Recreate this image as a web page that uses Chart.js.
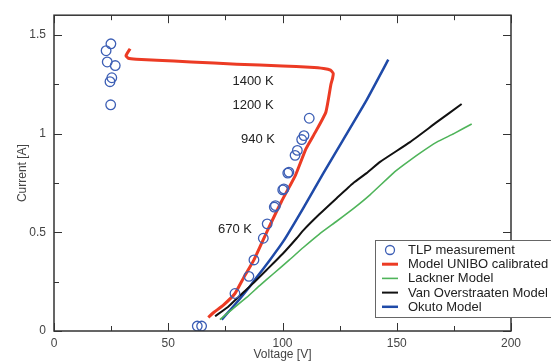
<!DOCTYPE html>
<html>
<head>
<meta charset="utf-8">
<script src="https://cdn.jsdelivr.net/npm/chart.js@4.4.1/dist/chart.umd.min.js"></script>
<style>
  html, body { margin: 0; padding: 0; background: #fff; }
</style>
</head>
<body>
<canvas id="chart" width="551" height="362"></canvas>
<script>
// ---------------- data ----------------
const xTicks = [0, 50, 100, 150, 200];
const xMinorTicks = [25, 75, 125, 175];
const yTicks = [0, 0.5, 1, 1.5];
const yMinorTicks = [0.25, 0.75, 1.25];

// TLP measurement (circles)
const tlpV = [22.8, 24.9, 23.3, 26.8, 25.3, 24.5, 24.8, 62.7, 64.6, 79.2, 85.3, 87.5, 91.6, 93.3,
              96.4, 96.9, 100.1, 100.6, 102.3, 102.8, 105.5, 106.5, 108.4, 109.4, 111.7];
const tlpI = [1.42, 1.455, 1.363, 1.345, 1.283, 1.263, 1.146, 0.025, 0.025, 0.19, 0.277, 0.36, 0.47, 0.543,
              0.628, 0.635, 0.715, 0.72, 0.80, 0.805, 0.89, 0.915, 0.97, 0.99, 1.078];

// Model UNIBO calibrated
const uniboV = [33.3, 31.5, 32.5, 36, 45, 60, 80, 100, 112, 118, 121, 122.2, 121.9, 121.2,
                119, 114.5, 110.3, 105.7, 99.5, 93.3, 87.5, 83, 79.2, 74, 70, 67.5];
const uniboI = [1.43, 1.395, 1.382, 1.377, 1.372, 1.363, 1.352, 1.343, 1.336, 1.33, 1.322, 1.305, 1.28, 1.25,
                1.11, 1.01, 0.924, 0.79, 0.655, 0.506, 0.36, 0.27, 0.19, 0.13, 0.095, 0.069];

// Lackner Model
const lacknerV = [72.6, 78, 84.3, 90, 96, 103, 109.1, 116, 123.7, 131, 138.3, 148.5, 152.9, 160, 167.5, 175, 182.8];
const lacknerI = [0.058, 0.11, 0.17, 0.23, 0.29, 0.36, 0.423, 0.49, 0.556, 0.62, 0.69, 0.8, 0.84, 0.9, 0.957, 1.0, 1.049];

// Van Overstraaten Model
const vanOverV = [70.5, 76, 81.4, 87, 93.1, 100, 106.2, 109.1, 116, 123.7, 131, 136.8, 142.7, 155.8, 167.5, 178.4];
const vanOverI = [0.075, 0.12, 0.18, 0.24, 0.31, 0.39, 0.47, 0.51, 0.59, 0.673, 0.75, 0.8, 0.857, 0.957, 1.058, 1.15];

// Okuto Model
const okutoV = [73.4, 77, 81.4, 85, 88.7, 94.5, 100.4, 109.1, 117.9, 126.6, 136.8, 146.3];
const okutoI = [0.058, 0.105, 0.164, 0.215, 0.272, 0.36, 0.455, 0.623, 0.8, 0.97, 1.17, 1.375];

// temperature notes
const noteText = ['1400 K', '1200 K', '940 K', '670 K'];
const noteV = [87.1, 87.1, 89.3, 79.2];
const noteI = [1.263, 1.143, 0.972, 0.516];

function pts(xs, ys) { return xs.map((x, i) => ({ x: x, y: ys[i] })); }

const FONT = '"Liberation Sans", Arial, sans-serif';

// ---------------- frame, inward ticks, notes and legend ----------------
const framePlugin = {
  id: 'frame',
  afterDatasetsDraw(chart) {
    const ctx = chart.ctx, a = chart.chartArea;
    const xs = chart.scales.x, ys = chart.scales.y;
    ctx.save();
    ctx.strokeStyle = '#333';
    ctx.lineWidth = 1.5;
    ctx.strokeRect(a.left, a.top, a.right - a.left, a.bottom - a.top);
    ctx.lineWidth = 1;
    ctx.beginPath();
    function xt(list, len) {
      list.forEach(v => {
        const px = Math.round(xs.getPixelForValue(v)) + 0.5;
        ctx.moveTo(px, a.bottom); ctx.lineTo(px, a.bottom - len);
        ctx.moveTo(px, a.top); ctx.lineTo(px, a.top + len);
      });
    }
    function yt(list, len) {
      list.forEach(v => {
        const py = Math.round(ys.getPixelForValue(v)) + 0.5;
        ctx.moveTo(a.left, py); ctx.lineTo(a.left + len, py);
        ctx.moveTo(a.right, py); ctx.lineTo(a.right - len, py);
      });
    }
    xt(xTicks, 8); xt(xMinorTicks, 5);
    yt(yTicks, 8); yt(yMinorTicks, 5);
    ctx.stroke();
    ctx.restore();
  },
  afterDraw(chart) {
    const ctx = chart.ctx;
    const xs = chart.scales.x, ys = chart.scales.y;
    ctx.save();
    // notes
    ctx.fillStyle = '#222';
    ctx.font = '13px ' + FONT;
    ctx.textAlign = 'center';
    ctx.textBaseline = 'middle';
    noteText.forEach((t, i) => {
      ctx.fillText(t, xs.getPixelForValue(noteV[i]), ys.getPixelForValue(noteI[i]));
    });
    // legend
    const bx = 375, by = 240, bw = 180, bh = 77;
    ctx.fillStyle = '#fff';
    ctx.fillRect(bx, by, bw, bh);
    ctx.strokeStyle = '#666';
    ctx.lineWidth = 1;
    ctx.strokeRect(bx + 0.5, by + 0.5, bw, bh);
    ctx.textAlign = 'left';
    chart.data.datasets.slice().sort((p, q) => p.legendIndex - q.legendIndex).forEach((ds, i) => {
      const y = by + 10 + i * 14.2;
      if (ds.showLine) {
        ctx.strokeStyle = ds.borderColor;
        ctx.lineWidth = ds.borderWidth;
        ctx.beginPath(); ctx.moveTo(382, y); ctx.lineTo(398, y); ctx.stroke();
      } else {
        ctx.strokeStyle = ds.pointBorderColor;
        ctx.lineWidth = 1.3;
        ctx.beginPath(); ctx.arc(390, y, 4.5, 0, Math.PI * 2); ctx.stroke();
      }
      ctx.fillStyle = '#222';
      ctx.fillText(ds.label, 408, y + 0.5);
    });
    ctx.restore();
  }
};

function lineSet(label, xs, ys, color, width, legendIndex) {
  return {
    label: label, data: pts(xs, ys), showLine: true, borderColor: color, borderWidth: width,
    pointRadius: 0, fill: false, tension: 0.15, legendIndex: legendIndex, order: 2
  };
}

new Chart(document.getElementById('chart'), {
  type: 'scatter',
  data: {
    datasets: [
      {
        label: 'TLP measurement', data: pts(tlpV, tlpI), showLine: false,
        pointRadius: 4.8, pointBorderWidth: 1.3, pointBorderColor: '#3d5fb5',
        pointBackgroundColor: 'rgba(0,0,0,0)', legendIndex: 0, order: 1
      },
      lineSet('Model UNIBO calibrated', uniboV, uniboI, '#ec3b24', 3, 1),
      lineSet('Lackner Model', lacknerV, lacknerI, '#4fb45a', 1.6, 2),
      lineSet('Van Overstraaten Model', vanOverV, vanOverI, '#111', 2, 3),
      lineSet('Okuto Model', okutoV, okutoI, '#1f4aa8', 2.5, 4)
    ]
  },
  options: {
    responsive: false,
    animation: false,
    layout: { padding: { top: 12, right: 40, left: 0, bottom: 0 } },
    plugins: { legend: { display: false }, tooltip: { enabled: false } },
    scales: {
      x: {
        type: 'linear', min: 0, max: 200,
        afterBuildTicks(s) { s.ticks = xTicks.map(v => ({ value: v })); },
        afterFit(s) { s.height = 31; },
        grid: { display: false, drawTicks: false },
        border: { display: false },
        ticks: { padding: 5, color: '#444', font: { family: FONT, size: 12 },
                 callback: v => String(v) },
        title: { display: true, text: 'Voltage [V]', color: '#444', padding: 0,
                 font: { family: FONT, size: 12 } }
      },
      y: {
        type: 'linear', min: 0, max: 1.6,
        afterBuildTicks(s) { s.ticks = yTicks.map(v => ({ value: v })); },
        afterFit(s) { s.width = 54; },
        grid: { display: false, drawTicks: false },
        border: { display: false },
        ticks: { padding: 8, color: '#444', font: { family: FONT, size: 12 },
                 callback: v => String(v) },
        title: { display: true, text: 'Current [A]', color: '#444', padding: { top: 15, bottom: 0 },
                 font: { family: FONT, size: 12 } }
      }
    }
  },
  plugins: [framePlugin]
});
</script>
</body>
</html>
